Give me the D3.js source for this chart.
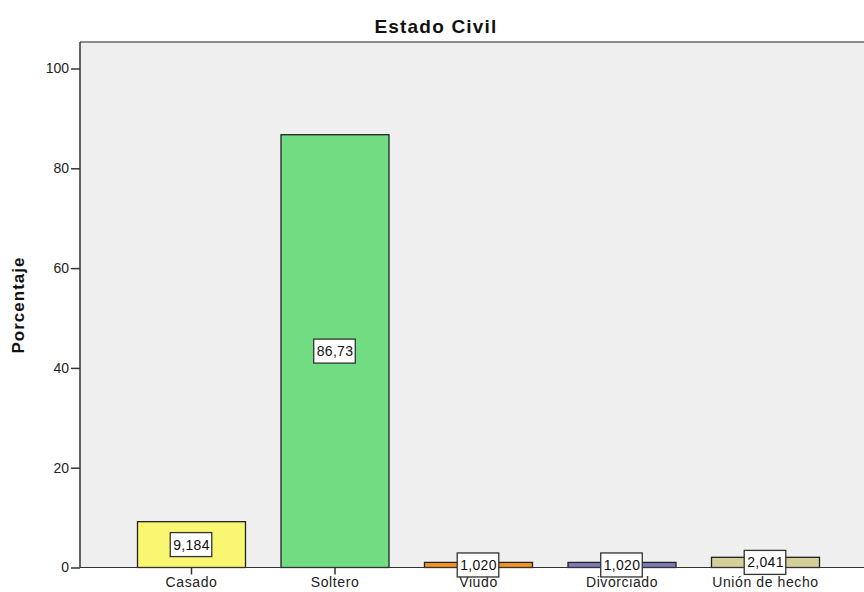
<!DOCTYPE html>
<html><head><meta charset="utf-8">
<script src="https://cdn.jsdelivr.net/npm/d3@7/dist/d3.min.js"></script>
<style>body{margin:0;background:#fff;} svg{display:block;font-family:"Liberation Sans",Arial,sans-serif;}</style>
</head><body>
<svg id="chart" width="864" height="592"></svg>
<script>
const categories = ["Casado", "Soltero", "Viudo", "Divorciado", "Unión de hecho"];
const values = [9.184, 86.73, 1.020, 1.020, 2.041];
const labels = ["9,184", "86,73", "1,020", "1,020", "2,041"];
const colors = ["#f9f671", "#72dc82", "#f7931e", "#7d7bb5", "#d5d09a"];
const yTicks = [0, 20, 40, 60, 80, 100];

const svg = d3.select("#chart");
const plotLeft = 80, plotTop = 42, plotRight = 864, plotBottom = 567.5;

const y = d3.scaleLinear().domain([0, 100]).range([567.5, 68.5]);
const p = 1 - 108 / 143.5;
const x = d3.scaleBand().domain(categories).range([119.75, 837.25]).paddingInner(p).paddingOuter(p / 2);

svg.append("rect").attr("x", plotLeft).attr("y", plotTop)
  .attr("width", plotRight - plotLeft).attr("height", plotBottom - plotTop)
  .attr("fill", "#efefef");
svg.append("line").attr("x1", plotLeft).attr("x2", plotRight).attr("y1", plotTop).attr("y2", plotTop)
  .attr("stroke", "#6a6a6a").attr("stroke-width", 1.5);

svg.selectAll("rect.bar").data(values).enter().append("rect").attr("class", "bar")
  .attr("x", (d, i) => x(categories[i]))
  .attr("y", d => y(d))
  .attr("width", x.bandwidth())
  .attr("height", d => y(0) - y(d))
  .attr("fill", (d, i) => colors[i])
  .attr("stroke", "#222").attr("stroke-width", 1.3);

const yAxis = svg.append("g").attr("transform", `translate(${plotLeft},0)`)
  .call(d3.axisLeft(y).tickValues(yTicks).tickSize(9).tickPadding(2));
yAxis.select(".domain").attr("d", `M0,${plotTop}V${plotBottom}`).attr("stroke", "#333").attr("stroke-width", 1.5);
yAxis.selectAll(".tick line").attr("stroke", "#333").attr("stroke-width", 1.5);
yAxis.selectAll(".tick text").attr("font-size", 14).attr("fill", "#222").attr("font-family", "Liberation Sans, Arial, sans-serif");

const xAxis = svg.append("g").attr("transform", `translate(0,${plotBottom})`)
  .call(d3.axisBottom(x).tickSize(7).tickPadding(3));
xAxis.select(".domain").attr("d", `M${plotLeft},0H${plotRight}`).attr("stroke", "#333").attr("stroke-width", 1.2);
xAxis.selectAll(".tick line").attr("stroke", "#333").attr("stroke-width", 1.5);
xAxis.selectAll(".tick text").attr("font-size", 14).attr("letter-spacing", 0.6).attr("fill", "#222")
  .attr("font-family", "Liberation Sans, Arial, sans-serif");

const lbl = svg.selectAll("g.lbl").data(values).enter().append("g").attr("class", "lbl")
  .attr("transform", (d, i) => `translate(${x(categories[i]) + x.bandwidth() / 2},${(y(d) + y(0)) / 2})`);
lbl.each(function(d, i) {
  const g = d3.select(this);
  const t = g.append("text").text(labels[i]).attr("text-anchor", "middle").attr("dy", "0.36em")
    .attr("font-size", 14).attr("letter-spacing", 0.3).attr("fill", "#111");
  const bb = t.node().getBBox();
  g.insert("rect", "text").attr("x", bb.x - 3).attr("y", -12).attr("width", bb.width + 5).attr("height", 24)
    .attr("fill", "#fff").attr("stroke", "#333").attr("stroke-width", 1.3);
});

svg.append("text").attr("x", 436).attr("y", 33).attr("text-anchor", "middle")
  .attr("font-size", 19).attr("letter-spacing", 1.2).attr("font-weight", "bold").attr("fill", "#111").text("Estado Civil");

svg.append("text").attr("transform", `translate(24,305) rotate(-90)`).attr("text-anchor", "middle")
  .attr("font-size", 17).attr("letter-spacing", 1).attr("font-weight", "bold").attr("fill", "#111").text("Porcentaje");
</script>
</body></html>
